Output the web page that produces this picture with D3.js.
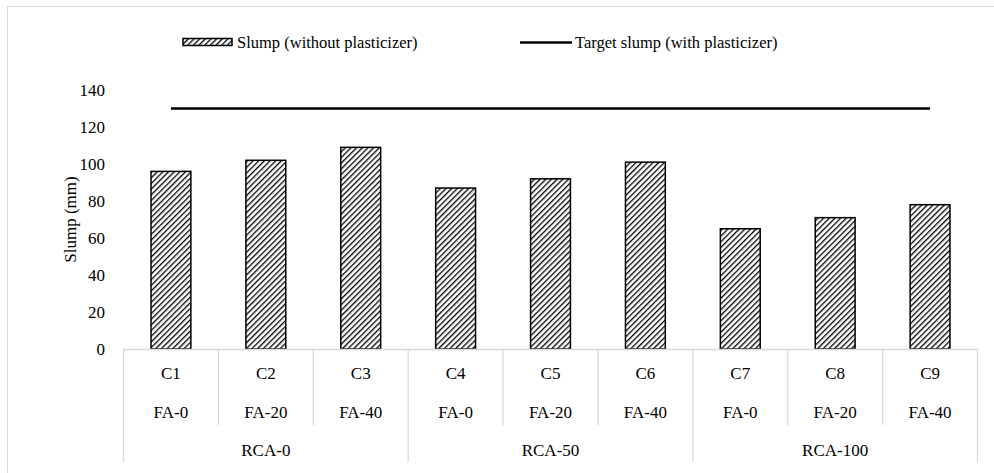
<html lang="en">
<head>
<script src="https://d3js.org/d3.v7.min.js"></script>
<style>
  body { margin: 0; background: #fff; }
  svg text { font-family: "Liberation Serif", "Times New Roman", Times, serif; fill: #000; }
</style>
</head>
<body>
<script>
// data
var mixes = ["C1", "C2", "C3", "C4", "C5", "C6", "C7", "C8", "C9"];
var faLabels = ["FA-0", "FA-20", "FA-40", "FA-0", "FA-20", "FA-40", "FA-0", "FA-20", "FA-40"];
var rcaGroups = ["RCA-0", "RCA-50", "RCA-100"];
var slump = [96, 102, 109, 87, 92, 101, 65, 71, 78];
var targetSlump = [130, 130, 130, 130, 130, 130, 130, 130, 130];
var yTicks = [0, 20, 40, 60, 80, 100, 120, 140];

var width = 994, height = 473;
var plotLeft = 123.5, plotRight = 977.5, plotTop = 90, plotBottom = 349;

var svg = d3.select("body").append("svg")
    .attr("width", width)
    .attr("height", height);

// hatch pattern for the bars
var defs = svg.append("defs");
var pat = defs.append("pattern")
    .attr("id", "hatch")
    .attr("patternUnits", "userSpaceOnUse")
    .attr("width", 4)
    .attr("height", 4)
    .attr("patternTransform", "rotate(45)");
pat.append("rect").attr("width", 4).attr("height", 4).attr("fill", "#fff");
pat.append("line")
    .attr("x1", 0).attr("y1", 0).attr("x2", 0).attr("y2", 4)
    .attr("stroke", "#000").attr("stroke-width", 2.6);

// chart frame
svg.append("rect")
    .attr("x", 7.5).attr("y", 6.5)
    .attr("width", 1000).attr("height", 480)
    .attr("fill", "none")
    .attr("stroke", "#d9d9d9");

var x = d3.scaleBand().domain(mixes).range([plotLeft, plotRight]).paddingInner(0).paddingOuter(0);
var y = d3.scaleLinear().domain([0, 140]).range([plotBottom, plotTop]);
var barW = x.bandwidth() * 0.42;

// y axis labels
svg.append("g").selectAll("text")
    .data(yTicks)
    .enter().append("text")
    .attr("x", 105)
    .attr("y", function(d) { return y(d); })
    .attr("dy", "0.35em")
    .attr("text-anchor", "end")
    .attr("font-size", "17px")
    .text(function(d) { return d; });

svg.append("text")
    .attr("transform", "translate(76," + ((plotTop + plotBottom) / 2) + ") rotate(-90)")
    .attr("text-anchor", "middle")
    .attr("font-size", "17px")
    .text("Slump (mm)");

// bars
svg.append("g").selectAll("rect")
    .data(slump)
    .enter().append("rect")
    .attr("x", function(d, i) { return x(mixes[i]) + (x.bandwidth() - barW) / 2; })
    .attr("y", function(d) { return y(d); })
    .attr("width", barW)
    .attr("height", function(d) { return y(0) - y(d); })
    .attr("fill", "url(#hatch)")
    .attr("stroke", "#000")
    .attr("stroke-width", 1.5);

// target line
var line = d3.line()
    .x(function(d, i) { return x(mixes[i]) + x.bandwidth() / 2; })
    .y(function(d) { return y(d); });
svg.append("path")
    .datum(targetSlump)
    .attr("d", line)
    .attr("fill", "none")
    .attr("stroke", "#000")
    .attr("stroke-width", 2.5);

// category axis with nested labels
var axisG = svg.append("g");
axisG.append("line")
    .attr("x1", plotLeft).attr("x2", plotRight)
    .attr("y1", plotBottom + 0.5).attr("y2", plotBottom + 0.5)
    .attr("stroke", "#d9d9d9").attr("stroke-width", 1.3);

mixes.forEach(function(m, i) {
    var xl = x(m);
    var isGroupEdge = i % 3 === 0;
    axisG.append("line")
        .attr("x1", xl).attr("x2", xl)
        .attr("y1", plotBottom).attr("y2", isGroupEdge ? 462 : 425)
        .attr("stroke", "#d9d9d9").attr("stroke-width", 1.3);
});
axisG.append("line")
    .attr("x1", plotRight).attr("x2", plotRight)
    .attr("y1", plotBottom).attr("y2", 462)
    .attr("stroke", "#d9d9d9").attr("stroke-width", 1.3);

axisG.selectAll("text.mix")
    .data(mixes)
    .enter().append("text")
    .attr("class", "mix")
    .attr("x", function(d) { return x(d) + x.bandwidth() / 2; })
    .attr("y", 379)
    .attr("text-anchor", "middle")
    .attr("font-size", "17px")
    .text(function(d) { return d; });

axisG.selectAll("text.fa")
    .data(faLabels)
    .enter().append("text")
    .attr("class", "fa")
    .attr("x", function(d, i) { return x(mixes[i]) + x.bandwidth() / 2; })
    .attr("y", 418)
    .attr("text-anchor", "middle")
    .attr("font-size", "17px")
    .text(function(d) { return d; });

axisG.selectAll("text.rca")
    .data(rcaGroups)
    .enter().append("text")
    .attr("class", "rca")
    .attr("x", function(d, i) { return x(mixes[i * 3]) + x.bandwidth() * 1.5; })
    .attr("y", 456)
    .attr("text-anchor", "middle")
    .attr("font-size", "17px")
    .text(function(d) { return d; });

// legend
var leg = svg.append("g");
leg.append("rect")
    .attr("x", 183).attr("y", 38.5)
    .attr("width", 49).attr("height", 7)
    .attr("fill", "url(#hatch)")
    .attr("stroke", "#000").attr("stroke-width", 1.5);
leg.append("text")
    .attr("x", 237).attr("y", 48)
    .attr("font-size", "16.5px")
    .text("Slump (without plasticizer)");
leg.append("line")
    .attr("x1", 520).attr("x2", 572)
    .attr("y1", 42.5).attr("y2", 42.5)
    .attr("stroke", "#000").attr("stroke-width", 2.5);
leg.append("text")
    .attr("x", 575).attr("y", 48)
    .attr("font-size", "16.5px")
    .text("Target slump (with plasticizer)");
</script>
</body>
</html>
